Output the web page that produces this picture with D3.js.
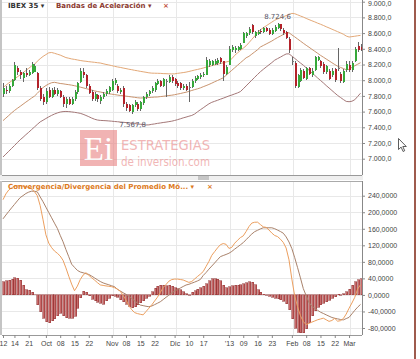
<!DOCTYPE html>
<html>
<head>
<meta charset="utf-8">
<script src="https://cdn.jsdelivr.net/npm/d3@7"></script>
<style>
body { margin: 0; background: #fff; }
svg { display: block; font-family: "DejaVu Sans", Verdana, sans-serif; }
.grid line { stroke: #e8e8e8; stroke-width: 1; }
.axis text { font-size: 7px; fill: #444; }
.axis line { stroke: #888; }
</style>
</head>
<body>
<svg></svg>
<script>

var width = 420;
var height = 359;

// daily candles, 10 Sep 2012 .. 7 Mar 2013 (one entry per trading day)
var open = [7830,7880,7860,7930,8000,8150,8100,8030,8090,8070,
  8090,8110,8090,7900,7790,7720,7880,7790,7880,7830,
  7860,7790,7700,7760,7700,7760,7850,7980,8110,8060,
  7920,7850,7760,7810,7740,7780,7820,7850,7880,7960,
  7930,7850,7900,7700,7690,7600,7680,7700,7630,7710,
  7780,7820,7860,7870,7950,7990,7930,7990,7980,8040,
  8010,7960,7960,7900,7930,7900,7910,7990,8020,8040,
  8060,8070,8190,8200,8210,8220,8280,8240,8080,8200,
  8390,8380,8390,8400,8480,8560,8600,8700,8560,8590,
  8630,8620,8660,8640,8590,8630,8670,8710,8640,8610,
  8530,8240,8220,7910,7990,8120,8020,8150,8060,8130,
  8260,8240,8210,8110,8120,8060,8140,8150,8080,7980,
  8130,8190,8130,8240,8440,8420];
var high = [7960,7920,7950,8020,8230,8180,8130,8110,8150,8130,
  8230,8210,8110,7920,7830,7900,7910,7900,7910,7900,
  7880,7810,7780,7790,7790,7870,7980,8160,8150,8080,
  7950,7880,7850,7830,7810,7850,7890,7930,8010,8030,
  7950,7900,7920,7720,7700,7700,7750,7720,7740,7800,
  7850,7880,7920,7980,8010,8000,8030,8010,8060,8060,
  8030,7990,7980,7950,7950,7980,8010,8050,8070,8090,
  8110,8290,8270,8260,8270,8280,8290,8250,8200,8440,
  8450,8440,8440,8470,8620,8620,8680,8715,8630,8640,
  8650,8680,8680,8660,8660,8700,8724.6,8715,8660,8630,
  8550,8290,8240,8080,8150,8140,8170,8170,8150,8310,
  8310,8260,8230,8200,8140,8150,8160,8410,8110,8140,
  8240,8240,8240,8420,8490,8460];
var low = [7790,7820,7840,7910,7990,8070,8020,7980,8040,8050,
  8080,8100,7880,7730,7690,7700,7770,7770,7810,7800,
  7770,7660,7640,7680,7690,7740,7830,7970,8030,7900,
  7820,7740,7740,7720,7700,7760,7800,7830,7860,7940,
  7840,7830,7660,7610,7590,7567.8,7660,7610,7610,7690,
  7760,7800,7840,7850,7940,7910,7910,7780,7960,7970,
  7930,7900,7880,7880,7860,7720,7900,7970,8000,8020,
  8040,8060,8170,8180,8190,8200,8210,7990,8060,8190,
  8360,8350,8370,8380,8470,8540,8580,8590,8540,8570,
  8590,8600,8610,8570,8570,8610,8650,8630,8580,8520,
  8350,8190,7900,7900,7980,8010,8000,8060,8040,8120,
  8240,8160,8080,8080,8000,8040,7980,8120,7960,7960,
  8110,8110,8110,8230,8360,8370];
var close = [7900,7860,7920,8000,8200,8110,8060,8090,8070,8110,
  8210,8180,7900,7760,7720,7860,7790,7880,7830,7870,
  7790,7700,7760,7700,7760,7850,7960,8120,8060,7920,
  7840,7760,7820,7760,7790,7830,7860,7910,7990,8000,
  7860,7880,7700,7640,7610,7680,7720,7630,7720,7780,
  7830,7860,7900,7960,7990,7930,8010,7985,8040,7990,
  7950,7920,7900,7930,7880,7908,7990,8030,8050,8070,
  8080,8260,8250,8240,8250,8260,8230,8080,8170,8400,
  8420,8410,8420,8450,8600,8600,8650,8610,8610,8620,
  8610,8660,8630,8590,8640,8680,8710,8650,8600,8540,
  8380,8230,7920,8060,8130,8030,8150,8080,8120,8290,
  8290,8180,8100,8180,8020,8120,8000,8142,7990,8120,
  8210,8130,8220,8400,8380,8390];

// Bandas de Aceleración
var upperBand = [7906,7935,7964,7990,8017,8042,8068,8095,8123,8152,
  8180,8202,8242,8274,8303,8326,8349,8353,8343,8331,
  8320,8304,8288,8280,8271,8265,8258,8251,8245,8241,
  8236,8232,8228,8223,8219,8210,8201,8194,8186,8177,
  8169,8163,8155,8148,8140,8134,8126,8120,8113,8107,
  8101,8094,8090,8089,8088,8087,8084,8083,8081,8080,
  8081,8087,8092,8097,8103,8111,8120,8129,8137,8146,
  8155,8166,8174,8185,8194,8203,8213,8222,8232,8241,
  8273,8316,8348,8378,8408,8438,8478,8520,8562,8603,
  8643,8667,8692,8716,8740,8764,8780,8794,8808,8823,
  8837,8851,8847,8833,8818,8804,8787,8772,8757,8743,
  8727,8713,8698,8681,8666,8650,8634,8618,8603,8586,
  8563,8550,8555,8560,8566,8571];
var middleBand = [7485,7517,7550,7583,7614,7641,7667,7694,7721,7746,
  7773,7797,7833,7871,7906,7932,7952,7968,7973,7966,
  7958,7954,7948,7943,7937,7930,7921,7912,7903,7893,
  7884,7874,7864,7856,7850,7842,7834,7827,7822,7817,
  7811,7806,7802,7797,7792,7787,7782,7777,7773,7775,
  7777,7780,7782,7785,7786,7791,7795,7800,7805,7809,
  7815,7823,7830,7839,7847,7857,7869,7880,7890,7902,
  7917,7931,7946,7962,7980,7996,8013,8030,8062,8094,
  8126,8158,8190,8222,8253,8285,8304,8332,8360,8388,
  8423,8442,8461,8480,8499,8522,8543,8562,8582,8601,
  8605,8577,8552,8525,8498,8471,8445,8420,8394,8369,
  8343,8317,8294,8270,8247,8223,8200,8178,8163,8149,
  8134,8138,8163,8184,8203,8223];
var lowerBand = [7022,7058,7094,7131,7167,7204,7241,7272,7306,7337,
  7371,7404,7437,7469,7490,7512,7533,7552,7569,7583,
  7594,7600,7602,7600,7596,7591,7585,7578,7566,7551,
  7535,7518,7503,7493,7488,7486,7484,7481,7478,7474,
  7471,7467,7464,7460,7456,7452,7448,7443,7439,7435,
  7430,7431,7438,7443,7450,7455,7461,7466,7472,7478,
  7487,7497,7508,7520,7530,7541,7551,7569,7597,7623,
  7648,7674,7699,7718,7731,7744,7758,7771,7785,7799,
  7811,7825,7838,7855,7890,7927,7964,8000,8037,8073,
  8108,8138,8167,8196,8224,8255,8275,8294,8315,8334,
  8336,8307,8278,8248,8219,8191,8158,8127,8094,8062,
  8029,7997,7966,7932,7901,7869,7837,7806,7780,7754,
  7730,7726,7732,7751,7792,7834];

// MACD panel
var macdLine = [230.3,244.3,253.8,259,263.3,264.2,264.2,263.3,262.3,259.9,
  256.2,249.9,240,216,181.8,145.4,125.3,114.4,106.2,100.8,
  94.1,83.6,65.4,45.1,26.2,10.2,21.3,37.1,48,53.8,
  47.5,41.5,35.9,29.8,24.2,23,21.8,20.8,19.9,17.5,
  14.1,9,-1.2,-12.1,-25.7,-35.6,-42.7,-45.1,-46.8,-48.2,
  -40.2,-32.2,-24.2,-14.8,-5.6,6.1,17.7,25.2,33.2,37.1,
  38.3,38.3,37.3,36.1,33.2,30.3,32.5,38.5,44.6,50.2,
  56.5,68.8,81,95.7,104.7,113.7,121.4,124.3,122.4,112.5,
  115.1,125.1,132.1,138.7,142.8,153.4,165.3,173.8,175.8,176,
  170.2,164.6,163.4,157.1,149.6,143.7,141.1,134.8,127,113.4,
  84.8,38.1,-2.9,-28.6,-50.4,-64.5,-71.8,-68.8,-65.7,-63,
  -60.1,-58.2,-56.2,-60.1,-64,-61.8,-56.7,-63.5,-62.3,-57.2,
  -46.3,-32.2,-19.6,-5.8,14.3,24.5];
var signalLine = [184,193.2,201.9,210.6,218.9,227.4,235.4,240.2,245.3,248.7,
  250.9,250.9,249.2,237.1,225.4,212.3,199.3,186.6,173.6,161,
  144.2,128.5,109.8,92.4,74.4,66.7,59.4,55.5,53.6,51.4,
  49.5,45.6,41.2,36.8,32.5,29.1,26.7,24.5,22.1,19.9,
  13.6,9.5,5.3,1.5,-3.4,-8.7,-14.1,-19.4,-24.5,-25.9,
  -27.4,-28.6,-26.9,-23.5,-20.1,-16.5,-11.2,-5.8,-0.5,4.8,
  9.5,13.1,16.7,20.4,24,25.7,28.4,31,33.9,37.3,
  47,54.1,62.3,69.8,77.3,85.1,92.6,95.3,97.9,100.8,
  105.2,110.8,115.9,121.2,126.5,133.6,140.6,147.4,153,156.3,
  159.7,162.4,162.4,162.4,162.4,160.2,156.8,153.4,149.3,140.3,
  128,112,90,66,41.2,15.3,-1.7,-18.4,-27.4,-32.2,
  -37.1,-41.7,-44.8,-48.2,-51.4,-54.5,-56.5,-57.9,-59.4,-60.4,
  -57.2,-54.3,-45.8,-37.3,-29.6,-23];
var histogram = [31.5,34,35,37.5,41,40,36,24,13,11,
  6,1,-24,-41,-56,-65,-67,-62,-58,-50,
  -44,-50,-55,-56,-56,-51,-32,-7,8.5,6,
  -2.5,-10,-14.5,-18,-20.5,-22,-14.5,-7.5,-2.5,-3.6,
  -6,-12,-16,-23,-28,-31.5,-29,-24,-19.5,-14.5,
  -8.5,-3.6,7.3,15.7,20.6,24,24,21.8,23.5,20.6,
  17,14.5,12.1,7.3,2.4,-0.5,6,10.4,13.3,17,
  20.6,26.7,34,38.8,38.8,37.6,34,24,17,19.4,
  21.8,23,23,24.2,26.7,29,31.5,30.3,24.2,12.1,
  6,1.2,-1.2,-3.6,-6,-8.5,-9.2,-12.1,-15.7,-21.8,
  -36.4,-58,-80,-89.7,-92,-91,-82.4,-67.9,-50.9,-38.8,
  -30.3,-24.2,-20.6,-17,-13.3,-8.5,-4.8,1.2,-1.2,2.4,
  7.3,13.3,23,31.5,36.4,38.8];

// axis ticks (x ticks are trading-day positions)
var priceTicks = [7000,7200,7400,7600,7800,8000,8200,8400,8600,8800,9000];
var macdTicks = [-80,-40,0,40,80,120,160,200,240];
var xTickIdx = [0,4,9,15,20,25,30,38,43,48,53,60,65,70,79,84,89,94,101,106,111,116,121];
var xTickLabels = ["12","14","21","Oct","08","15","22","Nov","08","15","22","Dic","10","17","\u201913","09","16","23","Feb","08","15","22","Mar"];
var monthIdx = [15,38,60,79,101,121];

var es = d3.formatLocale({decimal: ",", thousands: ".", grouping: [3], currency: ["", " €"], minus: "-"});
var fmtPrice = es.format(",.1f");
var fmtMacd = es.format(",.4f");

var svg = d3.select("svg").attr("width", width).attr("height", height);

var plotL = 2, plotR = 362;
var mainTop = 0, mainBottom = 175;
var lowTop = 181, lowBottom = 335;

var x = d3.scaleLinear().domain([0, 125]).range([3, 360.5]);
var y = d3.scaleLinear().domain([7000, 9000]).range([158.7, 1.7]);
var ym = d3.scaleLinear().domain([-80, 240]).range([328, 195.7]);

var defs = svg.append("defs");
defs.append("clipPath").attr("id", "clipMain").append("rect")
  .attr("x", plotL).attr("y", mainTop).attr("width", plotR - plotL).attr("height", mainBottom - mainTop);
defs.append("clipPath").attr("id", "clipLow").append("rect")
  .attr("x", plotL).attr("y", lowTop).attr("width", plotR - plotL).attr("height", lowBottom - lowTop);

//grids
var grid = svg.append("g").attr("class", "grid");
grid.selectAll(".hp").data(priceTicks).enter().append("line")
  .attr("x1", plotL).attr("x2", plotR)
  .attr("y1", function(d) { return Math.round(y(d)) + 0.5; })
  .attr("y2", function(d) { return Math.round(y(d)) + 0.5; });
grid.selectAll(".hm").data(macdTicks).enter().append("line")
  .attr("x1", plotL).attr("x2", plotR)
  .attr("y1", function(d) { return Math.round(ym(d)) + 0.5; })
  .attr("y2", function(d) { return Math.round(ym(d)) + 0.5; });
monthIdx.forEach(function(m) {
  var xx = Math.round(x(m)) + 1.5;
  grid.append("line").attr("x1", xx).attr("x2", xx).attr("y1", mainTop).attr("y2", mainBottom);
  grid.append("line").attr("x1", xx).attr("x2", xx).attr("y1", lowTop).attr("y2", lowBottom);
});

// watermark
var wm = svg.append("g").attr("opacity", 0.62);
wm.append("rect").attr("x", 80).attr("y", 130).attr("width", 37).attr("height", 36).attr("fill", "#e98585");
wm.append("text").attr("x", 98.5).attr("y", 160).attr("text-anchor", "middle")
  .style("font-family", "'Liberation Serif', 'DejaVu Serif', serif").style("font-size", "33px")
  .attr("fill", "#fff").text("Ei");
wm.append("text").attr("x", 121).attr("y", 149.5).attr("textLength", 89).attr("lengthAdjust", "spacingAndGlyphs")
  .style("font-size", "14.5px").attr("fill", "#ea8a8a").text("ESTRATEGIAS");
wm.append("text").attr("x", 121).attr("y", 166).attr("textLength", 89).attr("lengthAdjust", "spacingAndGlyphs")
  .style("font-size", "12px").attr("fill", "#ea8a8a").text("de inversion.com");

// bands
var mainG = svg.append("g").attr("clip-path", "url(#clipMain)");
function bandLine(arr) {
  return d3.line().x(function(d, i) { return x(i); }).y(function(d) { return y(d); })(arr);
}
mainG.append("path").attr("d", bandLine(upperBand)).attr("fill", "none").attr("stroke", "#e3a877").attr("stroke-width", 1);
mainG.append("path").attr("d", bandLine(middleBand)).attr("fill", "none").attr("stroke", "#c9946f").attr("stroke-width", 1);
mainG.append("path").attr("d", bandLine(lowerBand)).attr("fill", "none").attr("stroke", "#a47878").attr("stroke-width", 1);

// candles
var candles = close.map(function(c, i) {
  return {i: i, o: open[i], h: high[i], l: low[i], c: c};
});
function candleColor(d) {
  if (Math.abs(d.c - d.o) < 15) return "#777";
  return d.c > d.o ? "#36a83a" : "#b3222a";
}
var cg = mainG.append("g").attr("shape-rendering", "crispEdges");
cg.selectAll(".wick").data(candles).enter().append("line")
  .attr("x1", function(d) { return Math.round(x(d.i)) + 0.5; })
  .attr("x2", function(d) { return Math.round(x(d.i)) + 0.5; })
  .attr("y1", function(d) { return y(d.h); })
  .attr("y2", function(d) { return y(d.l); })
  .attr("stroke", "#666").attr("stroke-width", 1);
cg.selectAll(".body").data(candles).enter().append("rect")
  .attr("x", function(d) { return Math.round(x(d.i)) - 0.5; })
  .attr("width", 2)
  .attr("y", function(d) { return y(Math.max(d.o, d.c)); })
  .attr("height", function(d) { return Math.max(1, Math.abs(y(d.o) - y(d.c))); })
  .attr("fill", candleColor);

// max / min labels
var iMax = d3.maxIndex(high), iMin = d3.minIndex(low);
svg.append("text").attr("x", x(iMax)).attr("y", y(high[iMax]) - 4.5).attr("text-anchor", "middle")
  .style("font-size", "7px").attr("fill", "#556").text(fmtPrice(high[iMax]));
svg.append("text").attr("x", x(iMin) + 1).attr("y", y(low[iMin]) + 13).attr("text-anchor", "middle")
  .style("font-size", "7px").attr("fill", "#556").text(fmtPrice(low[iMin]));

// MACD panel
var lowG = svg.append("g").attr("clip-path", "url(#clipLow)");
lowG.append("g").attr("shape-rendering", "crispEdges").selectAll("rect").data(histogram).enter().append("rect")
  .attr("x", function(d, i) { return Math.round(x(i)) - 0.5; })
  .attr("width", 2)
  .attr("y", function(d) { return Math.min(ym(d), ym(0)); })
  .attr("height", function(d) { return Math.abs(ym(d) - ym(0)); })
  .attr("fill", "#c96a6a").attr("stroke", "#8a2a2a").attr("stroke-width", 0.5);
function macdPath(arr) {
  return d3.line().x(function(d, i) { return x(i); }).y(function(d) { return ym(d); })(arr);
}
lowG.append("path").attr("d", macdPath(signalLine)).attr("fill", "none").attr("stroke", "#a9826b").attr("stroke-width", 1);
lowG.append("path").attr("d", macdPath(macdLine)).attr("fill", "none").attr("stroke", "#ec9f5f").attr("stroke-width", 1);

// frames
var frame = svg.append("g").attr("fill", "none").attr("shape-rendering", "crispEdges");
frame.append("rect").attr("x", 0).attr("y", 175).attr("width", plotR + 1).attr("height", 5).attr("fill", "#efefef");
frame.append("rect").attr("x", 198).attr("y", 176).attr("width", 11).attr("height", 4).attr("fill", "#c6c6c6");
frame.append("line").attr("x1", plotL).attr("x2", plotR).attr("y1", mainBottom).attr("y2", mainBottom).attr("stroke", "#999");
frame.append("line").attr("x1", plotL).attr("x2", plotR).attr("y1", lowTop).attr("y2", lowTop).attr("stroke", "#aaa");
frame.append("line").attr("x1", plotL).attr("x2", plotR).attr("y1", lowBottom).attr("y2", lowBottom).attr("stroke", "#999");
frame.append("line").attr("x1", 1).attr("x2", 1).attr("y1", 0).attr("y2", mainBottom).attr("stroke", "#c4c4c4").attr("stroke-width", 2);
frame.append("line").attr("x1", 1).attr("x2", 1).attr("y1", lowTop).attr("y2", lowBottom).attr("stroke", "#c4c4c4").attr("stroke-width", 2);
frame.append("line").attr("x1", 415).attr("x2", 415).attr("y1", 0).attr("y2", height).attr("stroke", "#9e5b4e").attr("stroke-width", 1.5);

// axes
var yAxis = svg.append("g").attr("class", "axis")
  .attr("transform", "translate(" + plotR + ",0)")
  .call(d3.axisRight(y).tickValues(priceTicks).tickFormat(fmtPrice).tickSize(3).tickPadding(3));
yAxis.select(".domain").attr("d", "M0.5,0V" + mainBottom).attr("stroke", "#888");
// top label sits on the upper edge, nudge it inside
yAxis.selectAll(".tick").filter(function(d) { return d === 9000; }).select("text").attr("dy", "0.32em").attr("y", 1.6);

var ymAxis = svg.append("g").attr("class", "axis")
  .attr("transform", "translate(" + plotR + ",0)")
  .call(d3.axisRight(ym).tickValues(macdTicks).tickFormat(fmtMacd).tickSize(3).tickPadding(3));
ymAxis.select(".domain").attr("d", "M0.5," + lowTop + "V" + lowBottom).attr("stroke", "#888");

var xAxis = svg.append("g").attr("class", "axis")
  .attr("transform", "translate(0," + lowBottom + ")")
  .call(d3.axisBottom(x).tickValues(xTickIdx)
    .tickFormat(function(d, i) { return xTickLabels[i]; }).tickSize(3).tickPadding(3));
xAxis.select(".domain").remove();

// titles
var t1 = svg.append("text").attr("y", 7.5).style("font-size", "7px").style("font-weight", "bold");
t1.append("tspan").attr("x", 8).attr("fill", "#333").text("IBEX 35 \u25BE");
t1.append("tspan").attr("x", 56).attr("fill", "#8b3a30").text("Bandas de Aceleraci\u00f3n \u25BE");
t1.append("tspan").attr("x", 163).attr("fill", "#c0503c").text("\u00d7");

var t2 = svg.append("text").attr("y", 188.5).style("font-size", "7px").style("font-weight", "bold").attr("fill", "#dd7a22");
t2.append("tspan").attr("x", 8).text("Convergencia/Divergencia del Promedio M\u00f3... \u25BE");
t2.append("tspan").attr("x", 207).text("\u00d7");

// mouse pointer seen in the screenshot
svg.append("path").attr("transform", "translate(398.5,138.5)")
  .attr("d", "M0,0L0,11L2.6,8.6L4.6,13L6.2,12.2L4.3,8L7.8,8Z")
  .attr("fill", "#fff").attr("stroke", "#333").attr("stroke-width", 0.8);

</script>
</body>
</html>
